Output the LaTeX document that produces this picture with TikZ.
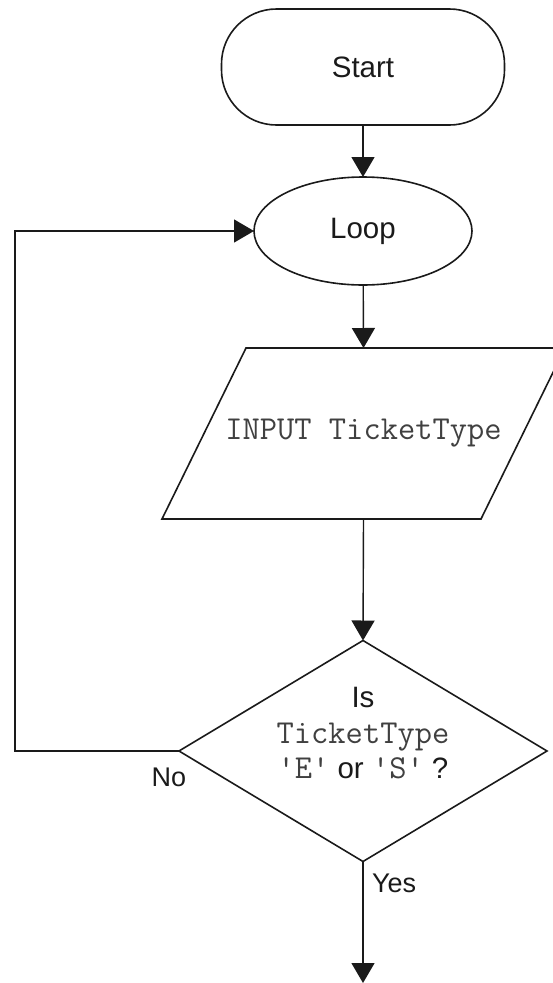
\documentclass[tikz,border=0pt]{standalone}
\usepackage{fontspec}
\setmainfont{Liberation Sans}
\usetikzlibrary{shapes.geometric,arrows.meta}
\definecolor{monocol}{HTML}{404040}
\definecolor{ink}{HTML}{1A1A1A}
\tikzset{
  every node/.style={inner sep=0pt, outer sep=0pt, text=ink},
  box/.style={draw=ink, line width=1.6pt},
  conn/.style={draw=ink, line width=1.4pt, -{Triangle[length=20pt,width=23pt]}},
  bigtxt/.style={font=\fontsize{29.5}{35}\selectfont},
  lbltxt/.style={font=\fontsize{27}{32}\selectfont},
}
\newcommand{\mt}[1]{{\fontsize{33.5}{35}\ttfamily\color{monocol}#1}}
\begin{document}
\begin{tikzpicture}[x=1pt,y=-1pt]
\useasboundingbox (0,0) rectangle (553,983);
% Start terminator
\node[box, rectangle, rounded corners=55pt, minimum width=283pt, minimum height=116pt, bigtxt] (start) at (363,67) {Start};
% Loop ellipse
\node[box, ellipse, minimum width=218pt, minimum height=108pt, bigtxt] (loop) at (363,231) {Loop};
% Input parallelogram
\node[rectangle, minimum width=319pt, minimum height=171pt, bigtxt] (inp) at (363.5,433.5) {\raisebox{3pt}{\mt{INPUT TicketType}}};
\draw[box] ([xshift=-42pt]inp.south west) -- ([xshift=-42pt]inp.south east) -- ([xshift=42pt]inp.north east) -- ([xshift=42pt]inp.north west) -- cycle;
% Decision diamond
\node[box, diamond, minimum width=368pt, minimum height=221pt] (dec) at (363,751) {};
\node[align=center, bigtxt] (dectxt) at (363,733) {Is\\[1pt]\mt{TicketType}\\\mt{'E'} or \mt{'S'} ?};
% end coordinate
\coordinate (endpt) at (363,983);
% connectors
\draw[conn] (start) -- (loop);
\draw[conn] (loop) -- (inp.north);
\draw[conn] (inp.south) -- (dec.north);
\draw[conn] (dec.south) -- (endpt);
\draw[conn] (dec.west) -- ++(-164,0) |- (loop.west);
% labels
\node[lbltxt] (nolbl) at (169,777) {No};
\node[lbltxt, anchor=west] (yeslbl) at (372,883) {Yes};
\end{tikzpicture}
\end{document}
